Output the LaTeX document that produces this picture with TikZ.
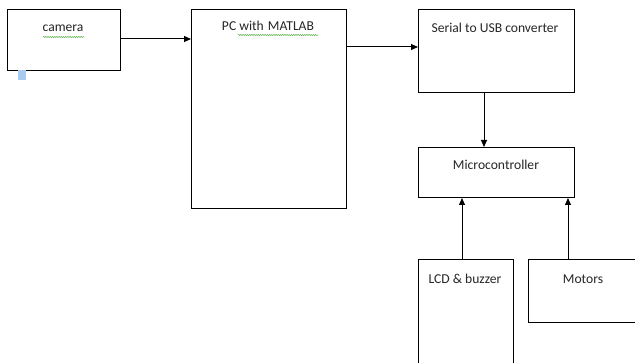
\documentclass[tikz,border=0pt]{standalone}
\usepackage{fontspec}
\setmainfont{Carlito}
\usetikzlibrary{arrows.meta,decorations.pathmorphing}
\definecolor{txt}{HTML}{262626}
\definecolor{spell}{HTML}{5BAF4A}
\definecolor{markblue}{HTML}{A9CBEF}
\tikzset{
  box/.style={draw=black, line width=1pt, rectangle, inner sep=0pt, anchor=north west},
  lbl/.style={text=txt, font=\fontsize{13.6pt}{15pt}\selectfont, inner sep=0pt},
  conn/.style={line width=1pt, -{Triangle[length=7pt,width=6pt]}},
  squig/.style={draw=spell, line width=0.5pt, decorate, decoration={snake, amplitude=0.6pt, segment length=2.2pt}}
}
\begin{document}
\begin{tikzpicture}[x=1pt,y=-1pt]
\useasboundingbox (0,0) rectangle (635,363);
\fill[white] (0,0) rectangle (635,363);
\clip (0,0) rectangle (635,363);
% boxes
\node[box, minimum width=113pt, minimum height=61pt] (cam) at (7,9) {};
\node[box, minimum width=155pt, minimum height=199pt] (pc) at (191,9) {};
\node[box, minimum width=156pt, minimum height=83pt] (ser) at (418,9) {};
\node[box, minimum width=156pt, minimum height=50pt] (mcu) at (418,147) {};
\node[box, minimum width=95pt, minimum height=110pt] (lcd) at (418,259) {};
\node[box, minimum width=115pt, minimum height=63pt] (mot) at (528,259) {};
% labels
\node[lbl] (camT) at (63,28) {camera};
\node[lbl] (pcT) at (268,26) {PC with\hspace{0.3em}MATLAB};
\node[lbl] (serT) at (495,28) {Serial to USB converter};
\node[lbl] (mcuT) at (496,165) {Microcontroller};
\node[lbl] (lcdT) at (465,279) {LCD \& buzzer};
\node[lbl] (motT) at (583,279) {Motors};
% spell-check underlines
\draw[squig] (43,37) -- (84,37);
\draw[squig] (238,35) -- (318,35);
% small marker
\fill[markblue] (18,70.5) rectangle (26,80);
% connectors
\coordinate (c1) at (cam.east |- 0,39);
\draw[conn] (c1) -- (c1 -| pc.west);
\coordinate (c2) at (pc.east |- 0,47);
\draw[conn] (c2) -- (c2 -| ser.west);
\coordinate (c3) at (ser.south -| 484,0);
\draw[conn] (c3) -- (c3 |- mcu.north);
\coordinate (c4) at (lcd.north -| 462,0);
\draw[conn] (c4) -- (c4 |- mcu.south);
\coordinate (c5) at (mot.north -| 568,0);
\draw[conn] (c5) -- (c5 |- mcu.south);
\end{tikzpicture}
\end{document}
